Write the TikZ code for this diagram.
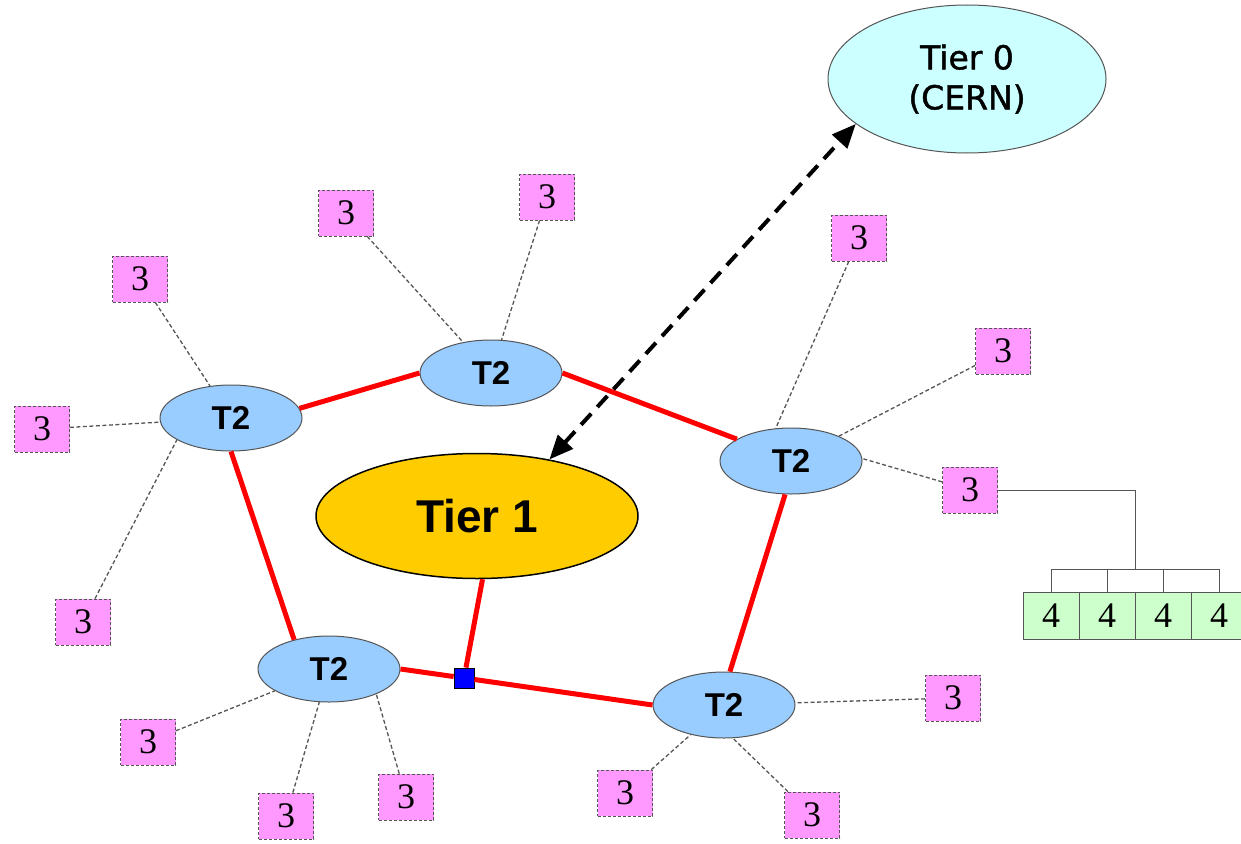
\documentclass[tikz,border=0pt]{standalone}
\usepackage{fontspec}
\setmainfont{Liberation Serif}
\newfontfamily\arialf{Liberation Sans}
\newfontfamily\comicf[FakeBold=1.3]{DejaVu Sans}
\usetikzlibrary{shapes.geometric,arrows.meta}
\definecolor{pinkbox}{HTML}{FF99FF}
\definecolor{greenbox}{HTML}{CCFFCC}
\definecolor{tzero}{HTML}{CCFFFF}
\definecolor{tone}{HTML}{FFCC00}
\definecolor{ttwo}{HTML}{99CCFF}
\definecolor{thinline}{HTML}{555555}
\tikzset{
  tworing/.style={ellipse, draw=thinline, line width=1pt, fill=ttwo, minimum width=142pt, minimum height=66pt, inner sep=0pt, font=\arialf\bfseries\fontsize{33}{36}\selectfont},
  threebox/.style={rectangle, draw=thinline, densely dashed, line width=0.8pt, fill=pinkbox, minimum width=55pt, minimum height=46pt, inner sep=0pt, font=\fontsize{36}{38}\selectfont},
  fourbox/.style={rectangle, draw=thinline, line width=0.8pt, fill=greenbox, minimum width=56pt, minimum height=47pt, inner sep=0pt, font=\fontsize{36}{38}\selectfont},
  leaf/.style={draw=thinline, line width=1.3pt, dash pattern=on 4pt off 2.5pt},
  ring/.style={draw=red, line width=5pt},
  treeline/.style={draw=thinline, line width=1pt},
}
\begin{document}
\begin{tikzpicture}[x=1pt,y=-1pt]
\useasboundingbox (0,0) rectangle (1241,843);
% main nodes
\node[ellipse, draw=thinline, line width=1pt, fill=tzero, minimum width=278pt, minimum height=148pt, inner sep=0pt, align=center, font=\comicf\fontsize{33}{40}\selectfont] (tier0) at (967,79) {Tier 0\\(CERN)};
\node[ellipse, draw=black, line width=1.5pt, fill=tone, minimum width=322pt, minimum height=125pt, inner sep=0pt, font=\arialf\bfseries\fontsize{46}{50}\selectfont] (tier1) at (477,516) {Tier 1};
\node[tworing] (t2a) at (231,418) {T2};
\node[tworing] (t2b) at (491,373) {T2};
\node[tworing] (t2c) at (791,461) {T2};
\node[tworing] (t2d) at (329,669) {T2};
\node[tworing] (t2e) at (724,705) {T2};
\node[rectangle, draw=black, line width=0.8pt, fill=blue, minimum size=20pt, inner sep=0pt] (sq) at (464,678) {};
% tier 3 boxes
\node[threebox] (a1) at (140,279) {3};
\node[threebox] (a2) at (42,429) {3};
\node[threebox] (a3) at (83,622) {3};
\node[threebox] (b1) at (346,213) {3};
\node[threebox] (b2) at (547,197) {3};
\node[threebox] (c1) at (859,238) {3};
\node[threebox] (c2) at (1003,351) {3};
\node[threebox] (c3) at (970,490) {3};
\node[threebox] (d1) at (148,742) {3};
\node[threebox] (d2) at (286,816) {3};
\node[threebox] (d3) at (406,797) {3};
\node[threebox] (e1) at (953,698) {3};
\node[threebox] (e2) at (625,793) {3};
\node[threebox] (e3) at (812,815) {3};
% tier 4 boxes
\node[fourbox] (f1) at (1051,616) {4};
\node[fourbox] (f2) at (1107,616) {4};
\node[fourbox] (f3) at (1163,616) {4};
\node[fourbox] (f4) at (1219,616) {4};
% ring
\draw[ring] (t2a.8) -- (t2b.west);
\draw[ring] (t2b.east) -- (t2c.158);
\draw[ring] (t2c.-100) -- (t2e.80);
\draw[ring] (t2e.west) -- (sq);
\draw[ring] (sq) -- (t2d.east);
\draw[ring] (t2d.140) -- (t2a.south);
\draw[ring] (tier1.-85) -- (sq);
% leaves
\draw[leaf] (a1) -- (t2a);
\draw[leaf] (a2) -- (t2a);
\draw[leaf] (a3) -- (t2a.202);
\draw[leaf] (b1) -- (t2b);
\draw[leaf] (b2) -- (t2b);
\draw[leaf] (c1) -- (t2c.115);
\draw[leaf] (c2) -- (t2c);
\draw[leaf] (c3) -- (t2c.2);
\draw[leaf] (d1) -- (t2d);
\draw[leaf] (d2) -- (t2d);
\draw[leaf] (d3) -- (t2d.-28);
\draw[leaf] (e1) -- (t2e);
\draw[leaf] (e2) -- (t2e);
\draw[leaf] (e3) -- (t2e.-75);
% tree to tier 4
\coordinate (bar) at (1135,569);
\draw[treeline] (c3.east) -| (bar);
\draw[treeline] (f1.north) -- (f1.north |- bar) -- (f4.north |- bar) -- (f4.north);
\draw[treeline] (f2.north) -- (f2.north |- bar);
\draw[treeline] (f3.north) -- (f3.north |- bar);
% dashed double arrow
\draw[line width=4pt, dash pattern=on 15pt off 9pt, {Triangle[length=24pt,width=20pt]}-{Triangle[length=24pt,width=20pt]}] (tier1.38) -- (tier0.202);
\end{tikzpicture}
\end{document}
